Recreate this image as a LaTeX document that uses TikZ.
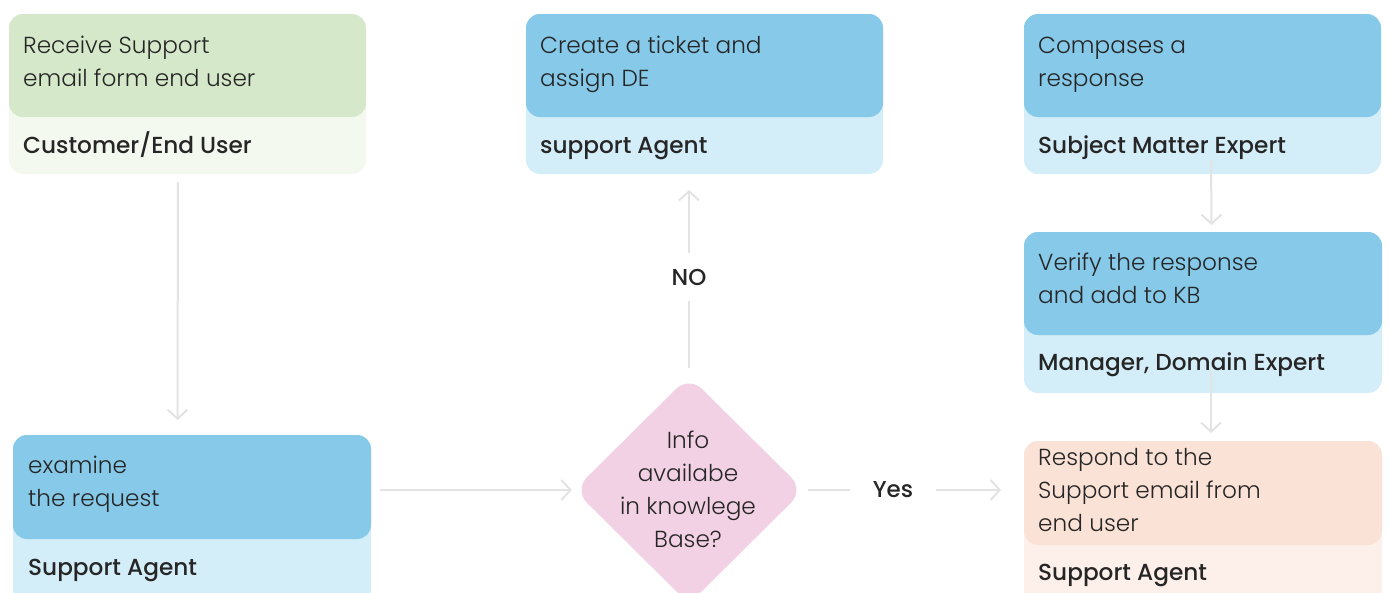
\documentclass[tikz,border=0pt]{standalone}
\usepackage{fontspec}
\setmainfont{Poppins}
\newfontfamily\popl{Poppins Light}
\newfontfamily\popm{Poppins Medium}
\usetikzlibrary{arrows.meta,shapes.geometric}
\definecolor{ink}{HTML}{262626}
\definecolor{wire}{HTML}{E3E3E3}
\definecolor{greenD}{HTML}{D5E8C9}
\definecolor{greenL}{HTML}{F4F9F0}
\definecolor{blueD}{HTML}{86C9E9}
\definecolor{blueL}{HTML}{D3EDF9}
\definecolor{peachD}{HTML}{FBE2D6}
\definecolor{peachL}{HTML}{FDF0EA}
\definecolor{pinkD}{HTML}{F2D1E4}
\tikzset{
  card/.style={rectangle, rounded corners=14pt, inner sep=0pt, outer sep=0pt,
    anchor=north west, minimum width=357pt},
  % multi-line text: the base anchor sits on the last line's baseline
  body/.style={font=\popl\fontsize{23.2}{33}\selectfont, text=ink, align=left,
    inner sep=0pt, anchor=base west},
  role/.style={font=\popm\fontsize{23.2}{33}\selectfont, text=ink,
    inner sep=0pt, anchor=base west},
  wirelabel/.style={font=\popm\fontsize{23}{33}\selectfont, text=ink},
  wireline/.style={draw=wire, line width=2pt},
  conn/.style={wireline, -{Straight Barb[length=9pt,width=20pt,line width=2pt]}},
}
\begin{document}
\begin{tikzpicture}[x=1pt,y=-1pt]
\useasboundingbox (0,0) rectangle (1389,592);

% Customer / end user
\node[card, fill=greenL, minimum height=160pt] (b1) at (9,14) {};
\node[card, fill=greenD, minimum height=103pt] (b1top) at (9,14) {};
\node[body] (b1t) at (23,86) {Receive Support\\email form end user};
\node[role] (b1r) at (23,153) {Customer/End User};

% Ticket creation
\node[card, fill=blueL, minimum height=160pt] (b2) at (526,14) {};
\node[card, fill=blueD, minimum height=103pt] (b2top) at (526,14) {};
\node[body] (b2t) at (540,86) {Create a ticket and\\assign DE};
\node[role] (b2r) at (540,153) {support Agent};

% Subject matter expert
\node[card, fill=blueL, minimum height=160pt] (b3) at (1024,14) {};
\node[card, fill=blueD, minimum height=103pt] (b3top) at (1024,14) {};
\node[body] (b3t) at (1038,86) {Compases a\\response};
\node[role] (b3r) at (1038,153) {Subject Matter Expert};

% Verification
\node[card, fill=blueL, minimum width=358pt, minimum height=161pt] (b4) at (1024,232) {};
\node[card, fill=blueD, minimum width=358pt, minimum height=103pt] (b4top) at (1024,232) {};
\node[body] (b4t) at (1038,303) {Verify the response\\and add to KB};
\node[role] (b4r) at (1038,370) {Manager, Domain Expert};

% Reply to the user
\node[card, fill=peachL, minimum width=358pt, minimum height=170pt] (b5) at (1024,441) {};
\node[card, fill=peachD, minimum width=358pt, minimum height=104pt] (b5top) at (1024,441) {};
\node[body] (b5t) at (1038,531) {Respond to the\\Support email from\\end user};
\node[role] (b5r) at (1038,580) {Support Agent};

% Examine the request
\node[card, fill=blueL, minimum width=358pt, minimum height=170pt] (b6) at (13,435) {};
\node[card, fill=blueD, minimum width=358pt, minimum height=104pt] (b6top) at (13,435) {};
\node[body] (b6t) at (28,506) {examine\\the request};
\node[role] (b6r) at (28,575) {Support Agent};

% Decision
\node[diamond, fill=pinkD, rounded corners=18pt, minimum width=230pt,
  minimum height=228pt, inner sep=0pt] (dec) at (689,490) {};
\node[font=\popl\fontsize{23.2}{33}\selectfont, text=ink, align=center,
  inner sep=0pt, anchor=base] (dect) at (688,547) {Info\\availabe\\in knowlege\\Base?};

% Connectors
\draw[conn] ([xshift=-9.5pt,yshift=-8pt]b1.south) -- ([xshift=-14.5pt,yshift=15pt]b6.north);
\draw[conn] ([xshift=9pt]b6top.east |- dec.west) -- ([xshift=-2pt]dec.west);

\node[wirelabel, inner xsep=4pt, inner ysep=16pt] (no) at (689,277) {NO};
\draw[wireline] ([yshift=8pt]dec.north) -- (no);
\draw[conn] (no) -- ([yshift=-16pt]no |- b2.south);

\node[wirelabel, inner xsep=23pt, inner ysep=4pt] (yes) at (893,490) {Yes};
\draw[wireline] ([xshift=4pt]dec.east) -- (yes);
\draw[conn] (yes) -- ([xshift=-23pt]yes -| b5.west);

\draw[conn] ([xshift=8.5pt,yshift=14pt]b3.south) -- ([xshift=8.5pt,yshift=7pt]b4.north);
\draw[conn] ([xshift=8pt,yshift=23pt]b4.south) -- ([xshift=8pt,yshift=8pt]b5.north);
\end{tikzpicture}
\end{document}
